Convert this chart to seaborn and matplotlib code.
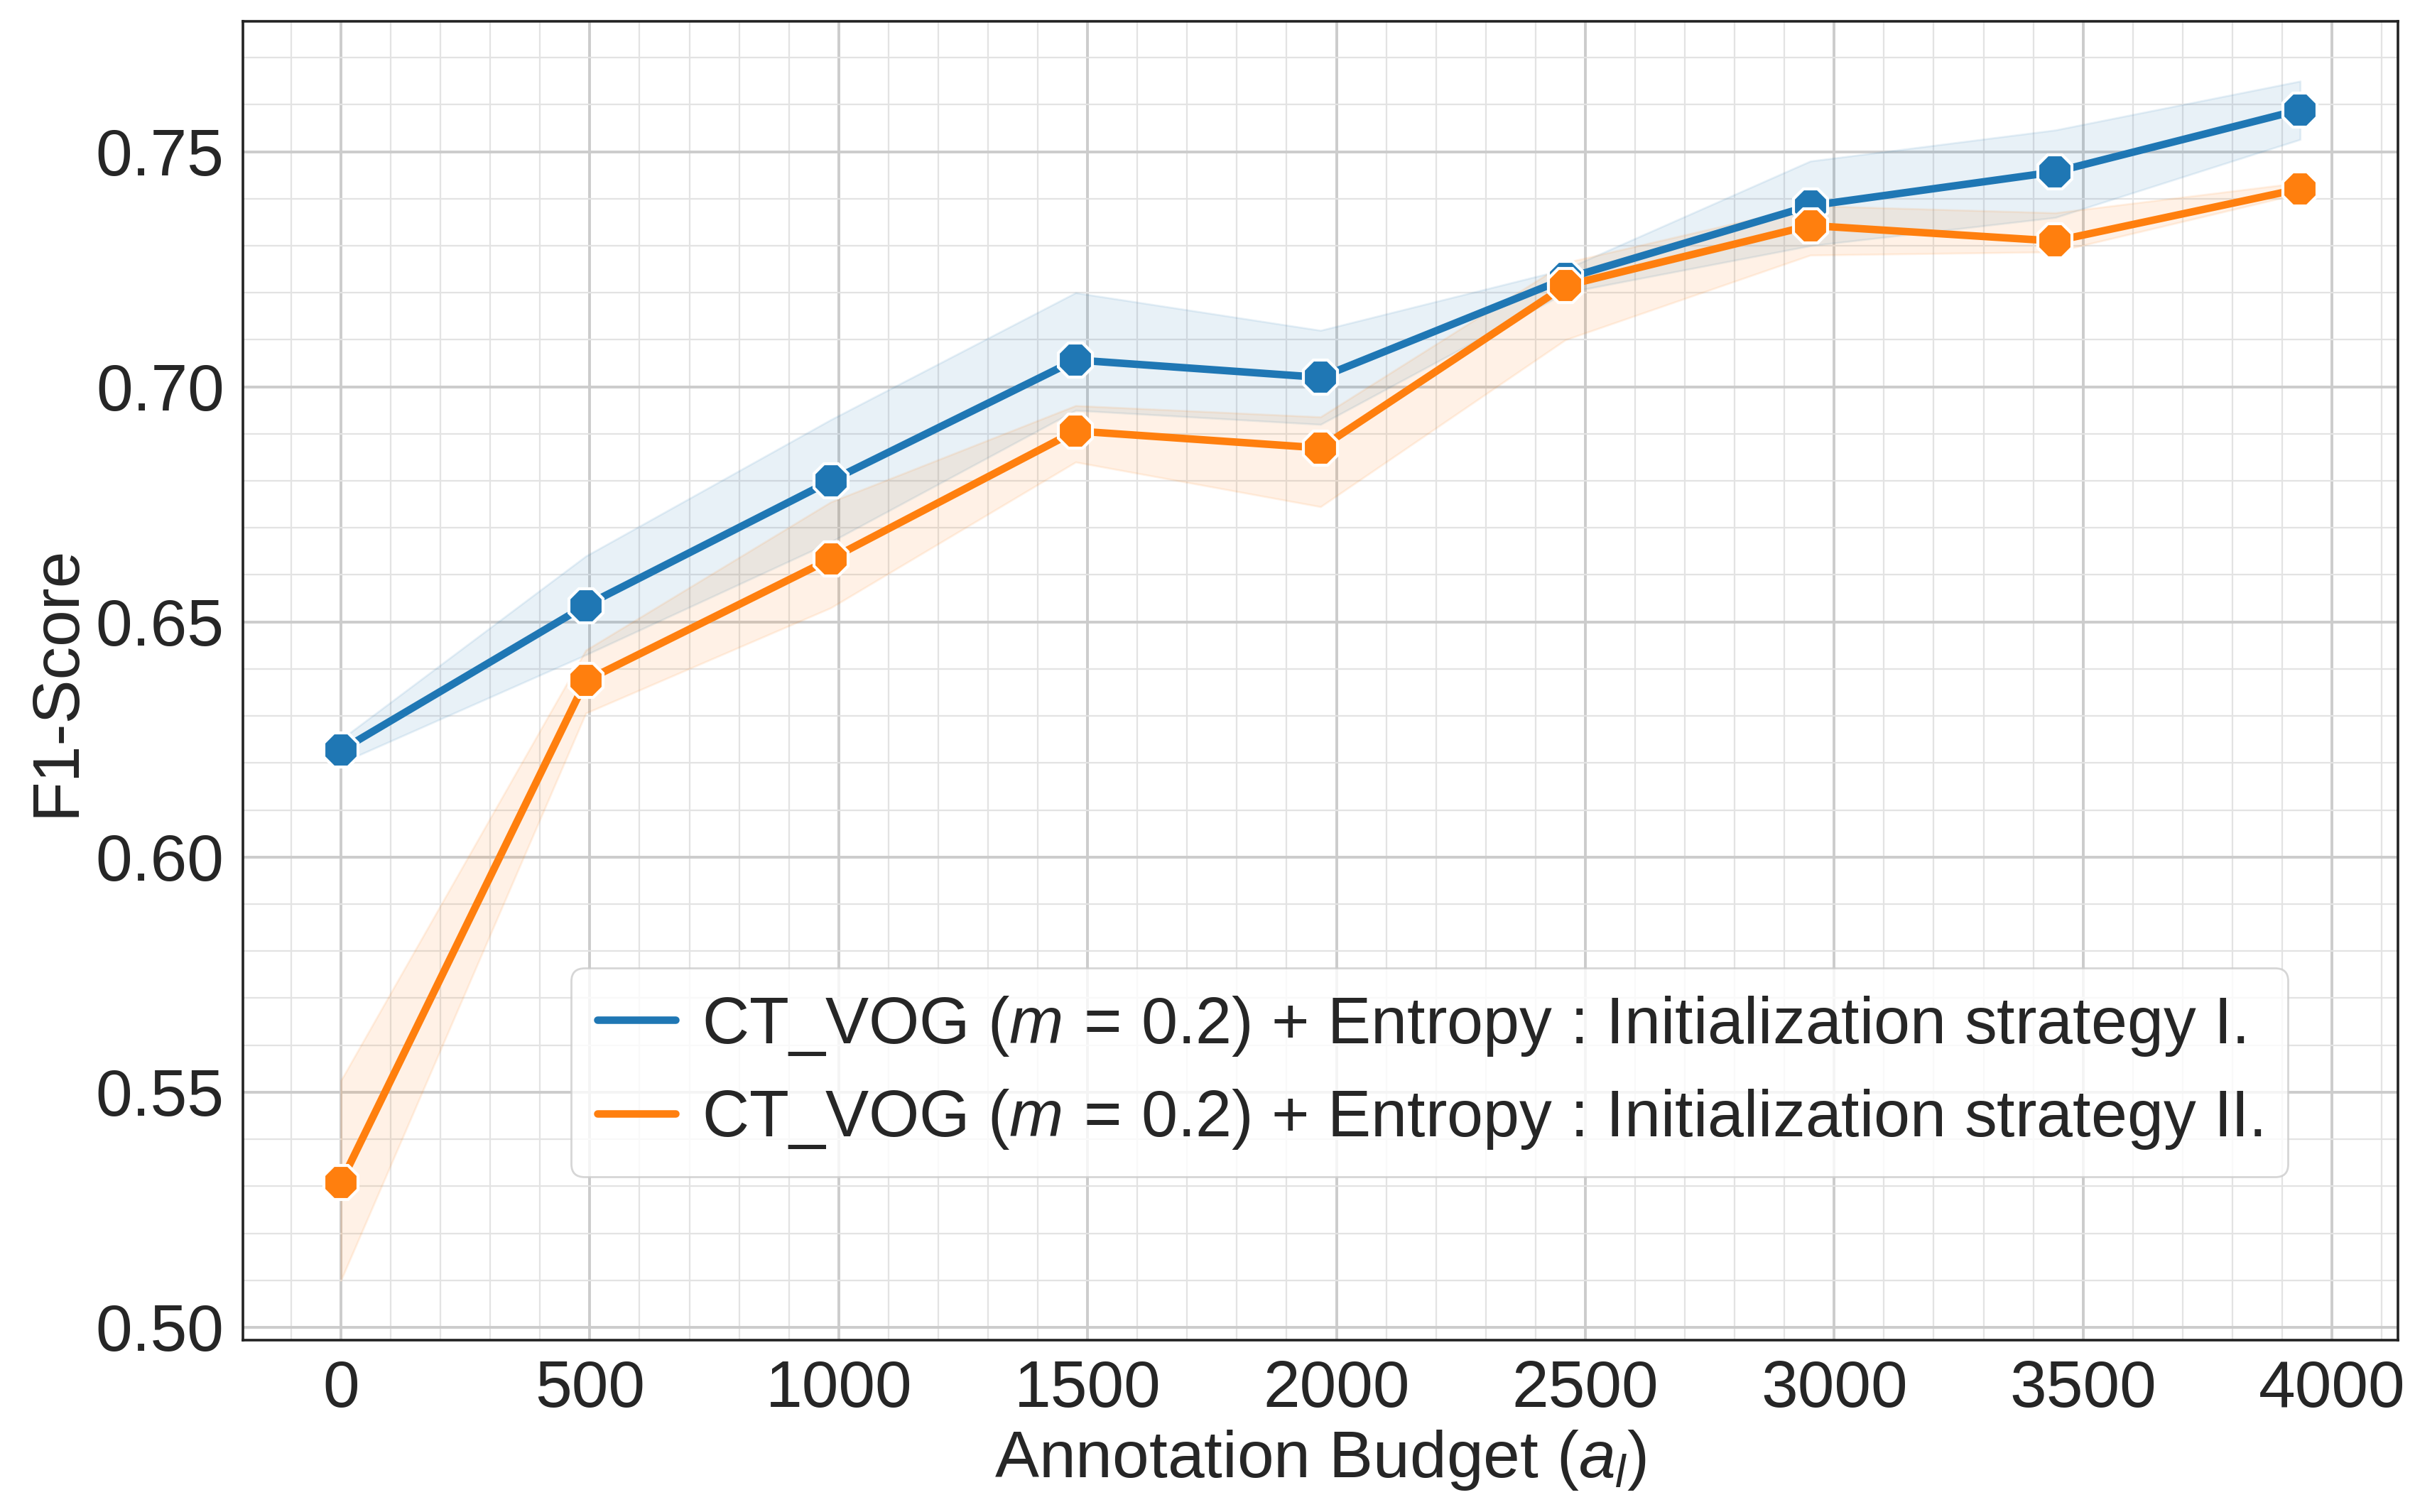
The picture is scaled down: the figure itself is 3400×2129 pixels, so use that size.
import seaborn as sns
import matplotlib.pyplot as plt
import pandas as pd
from matplotlib.lines import Line2D
from matplotlib.ticker import MultipleLocator

# budget steps
budget = [0, 492, 984, 1476, 1968, 2460, 2952, 3444, 3936]

# strategy I (mean, lower, upper)
s1_mean = [0.6227, 0.6535, 0.6800, 0.7057, 0.7020, 0.7230, 0.7385, 0.7457, 0.7589]
s1_low = [0.6200, 0.6430, 0.6670, 0.6950, 0.6920, 0.7200, 0.7300, 0.7360, 0.7526]
s1_up = [0.6250, 0.6640, 0.6930, 0.7200, 0.7120, 0.7250, 0.7480, 0.7546, 0.7650]

# strategy II (mean, lower, upper)
s2_mean = [0.5308, 0.6375, 0.6634, 0.6906, 0.6870, 0.7215, 0.7343, 0.7310, 0.7421]
s2_low = [0.5100, 0.6306, 0.6530, 0.6840, 0.6745, 0.7100, 0.7280, 0.7287, 0.7411]
s2_up = [0.5525, 0.6440, 0.6755, 0.6960, 0.6936, 0.7264, 0.7385, 0.7370, 0.7434]

lab1 = r"CT_VOG ($m\,=\,0.2$) + Entropy : Initialization strategy I."
lab2 = r"CT_VOG ($m\,=\,0.2$) + Entropy : Initialization strategy II."

rows = []
for lab, m, lo, up in [(lab1, s1_mean, s1_low, s1_up), (lab2, s2_mean, s2_low, s2_up)]:
    for i, b in enumerate(budget):
        for v in (lo[i], m[i], up[i]):
            rows.append({"budget": b, "f1": v, "run": lab})
df = pd.DataFrame(rows)

sns.set_theme(style="whitegrid")
plt.rcParams['font.family'] = ['Liberation Sans', 'DejaVu Sans']
plt.rcParams['mathtext.fontset'] = 'custom'
plt.rcParams['mathtext.rm'] = 'Liberation Sans'
plt.rcParams['mathtext.it'] = 'Liberation Sans:italic'

fig, ax = plt.subplots(figsize=(17, 10.645), dpi=200)
fig.subplots_adjust(left=0.1006, right=0.993, top=0.986, bottom=0.1136)

pal = ["#1f77b4", "#ff7f0e"]
sns.lineplot(data=df, x="budget", y="f1", hue="run", palette=pal,
             estimator="median", errorbar=("pi", 100), marker="8",
             markersize=19, markeredgecolor="white", markeredgewidth=1.5,
             linewidth=3.8, ax=ax, legend=False, err_kws={"alpha": 0.1})

ax.xaxis.set_minor_locator(MultipleLocator(100))
ax.yaxis.set_minor_locator(MultipleLocator(0.01))
ax.yaxis.set_major_locator(MultipleLocator(0.05))
ax.grid(which="major", color="#cccccc", linewidth=1.4)
ax.grid(which="minor", color="#e3e3e3", linewidth=0.8)
for s in ax.spines.values():
    s.set_color("#222222")
    s.set_linewidth(1.3)

ax.tick_params(labelsize=33.5)
ax.set_xlabel("Annotation Budget ($a_l$)", fontsize=33.5)
ax.set_ylabel("F1-Score", fontsize=33.5)

handles = [Line2D([], [], color=pal[0], lw=3.8), Line2D([], [], color=pal[1], lw=3.8)]
ax.legend(handles, [lab1, lab2], fontsize=33, loc="lower right",
          bbox_to_anchor=(0.964, 0.099), frameon=True, handlelength=1.2,
          handletextpad=0.4, labelspacing=0.45)

fig.savefig("out.png")
